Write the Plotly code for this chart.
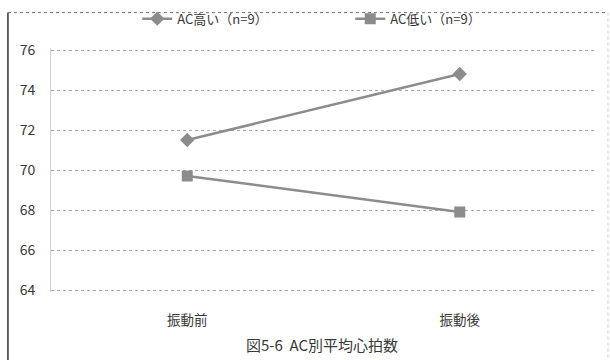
import plotly.graph_objects as go

# Heart-rate means by AC group, before and after vibration
phases = ["振動前", "振動後"]
ac_high = [71.5, 74.8]
ac_low = [69.7, 67.9]
series_names = ["AC高い（n=9）", "AC低い（n=9）"]
y_ticks = [64, 66, 68, 70, 72, 74, 76]
chart_title = "図5-6  AC別平均心拍数"

FONT = "Noto Sans CJK JP"
LINE_GRAY = "#8c8c8c"
TEXT_GRAY = "#383838"

fig = go.Figure()
fig.add_trace(go.Scatter(
    x=phases, y=ac_high, name=series_names[0], mode="lines+markers",
    line=dict(color=LINE_GRAY, width=2.5),
    marker=dict(symbol="diamond", size=11, color=LINE_GRAY),
))
fig.add_trace(go.Scatter(
    x=phases, y=ac_low, name=series_names[1], mode="lines+markers",
    line=dict(color=LINE_GRAY, width=2.5),
    marker=dict(symbol="square", size=11, color=LINE_GRAY),
))

fig.update_layout(
    width=610, height=360,
    margin=dict(l=51, r=14, t=48, b=68, autoexpand=False),
    paper_bgcolor="white", plot_bgcolor="white",
    font=dict(family=FONT, color=TEXT_GRAY, size=13),
    showlegend=True,
    legend=dict(
        orientation="h", xref="container", yref="container",
        x=0.225, xanchor="left", y=0.948, yanchor="middle",
        entrywidth=168, entrywidthmode="pixels",
        font=dict(family=FONT, size=13, color=TEXT_GRAY),
        bgcolor="rgba(0,0,0,0)", itemclick=False,
    ),
    xaxis=dict(
        type="category", range=[-0.5, 1.5], showgrid=False, zeroline=False,
        showline=False, ticks="", ticklabelstandoff=18,
        tickfont=dict(family=FONT, size=13.5, color=TEXT_GRAY),
    ),
    yaxis=dict(
        range=[63.9, 76.1], tickvals=y_ticks, showgrid=True,
        gridcolor="#a8a8a8", griddash="dot", gridwidth=1,
        zeroline=False, showline=True, linecolor="#d0d0d0", linewidth=1,
        ticks="", ticklabelstandoff=12,
        tickfont=dict(family=FONT, size=14, color=TEXT_GRAY),
    ),
    annotations=[dict(
        text=chart_title, xref="paper", yref="paper",
        x=0.497, y=-0.217, xanchor="center", yanchor="middle",
        showarrow=False, font=dict(family=FONT, size=15, color=TEXT_GRAY),
    )],
    shapes=[
        # outer chart frame
        dict(type="line", xref="paper", yref="paper", x0=-0.079, x1=-0.079,
             y0=1.145, y1=-0.35, line=dict(color="#303030", width=1.5)),
        dict(type="line", xref="paper", yref="paper", x0=-0.079, x1=1.022,
             y0=1.145, y1=1.145, line=dict(color="#707070", width=1, dash="dot")),
        dict(type="line", xref="paper", yref="paper", x0=1.022, x1=1.022,
             y0=1.145, y1=-0.35, line=dict(color="#c8c8c8", width=1, dash="dot")),
    ],
)

fig.write_html("out.html")
